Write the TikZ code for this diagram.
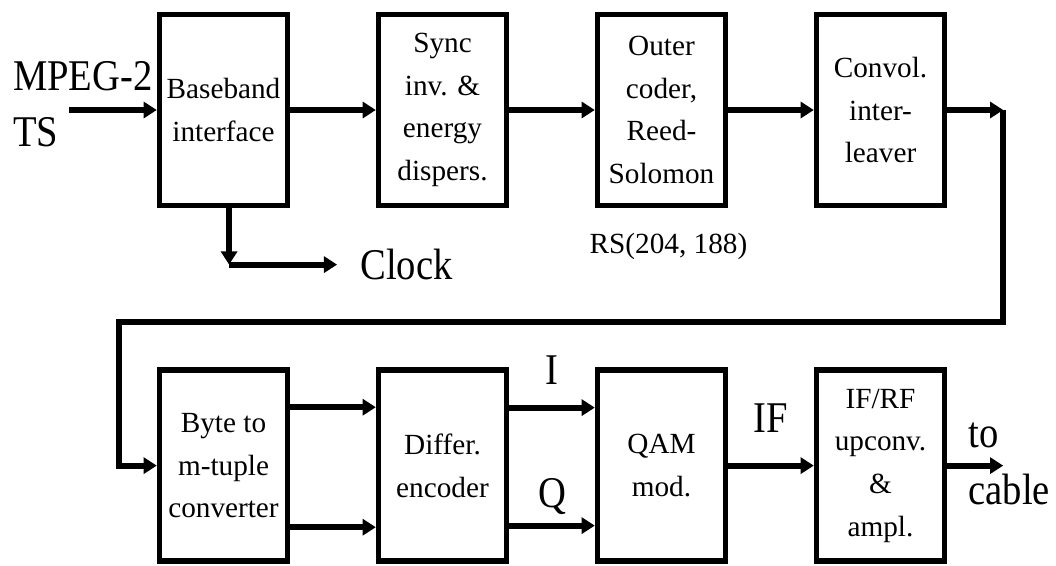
\documentclass[tikz,border=0pt]{standalone}
\usepackage{fontspec}
\setmainfont{Liberation Serif}
\newfontfamily\lblfont{Liberation Serif}[FakeStretch=0.88]
\usetikzlibrary{positioning,arrows.meta}
\tikzset{
  blk/.style={draw,line width=1.35mm,minimum width=32mm,minimum height=47.75mm,inner sep=0pt,align=center,font=\fontsize{20.8}{30.4}\selectfont},
  arr/.style={-{Triangle[length=3.3mm,width=4mm]},line width=1.5mm},
  lbig/.style={inner sep=0pt,font=\lblfont\fontsize{31.2}{40}\selectfont},
  lsmall/.style={inner sep=0pt,font=\fontsize{20.8}{30.4}\selectfont}
}

\begin{document}
\begin{tikzpicture}[x=0.25mm,y=-0.25mm,node distance=21.4mm]
\useasboundingbox (0,0) rectangle (1056,565);
% top row
\node[blk] (bb) at (223.5,110) {Baseband\\interface};
\node[blk, right=of bb] (sync) {Sync\\inv. \&\\energy\\dispers.};
\node[blk, right=of sync] (rs) {Outer\\coder,\\Reed-\\Solomon};
\node[blk, right=of rs] (ilv) {Convol.\\inter-\\leaver};
% bottom row
\node[blk, below=39.8mm of bb] (byte) {Byte to\\m-tuple\\converter};
\node[blk, right=of byte] (diff) {Differ.\\encoder};
\node[blk, right=of diff] (qam) {QAM\\mod.};
\node[blk, right=of qam] (rf) {IF/RF\\upconv.\\\&\\ampl.};

% labels
\node[lbig, align=left, left=1mm of bb, yshift=1.4mm] (mpeg) {MPEG-2\\TS};
\node[lsmall, below=6.1mm of rs, xshift=1.75mm] (rsc) {RS(204, 188)};

% input and top chain
\coordinate[left=22mm of bb] (tsin);
\draw[arr] (tsin) -- (bb);
\draw[arr] (bb) -- (sync);
\draw[arr] (sync) -- (rs);
\draw[arr] (rs) -- (ilv);

% clock output
\coordinate (clk1) at ([xshift=1.4mm,yshift=-14.1mm]bb.south);
\coordinate[right=27mm of clk1] (clk2);
\node[lbig, right=5.75mm of clk2] (clock) {Clock};
\draw[arr] (bb.south -| clk1) -- (clk1);
\draw[arr] (clk1) -- (clk2);

% loop down to second row
\coordinate[right=14mm of ilv] (c1);
\coordinate (lp) at ([xshift=-9.5mm,yshift=11.25mm]byte.north west);
\draw[arr] (ilv) -- (c1);
\draw[arr] (c1) |- (lp) |- (byte);

% bottom chain
\draw[arr] ([yshift=14.6mm]byte.east) -- ([yshift=14.6mm]diff.west);
\draw[arr] ([yshift=-15.4mm]byte.east) -- ([yshift=-15.4mm]diff.west);
\draw[arr] ([yshift=14.5mm]diff.east) -- node[lbig, above=5mm] (ilbl) {I} ([yshift=14.5mm]qam.west);
\draw[arr] ([yshift=-15mm]diff.east) -- node[lbig, above=2mm] (qlbl) {Q} ([yshift=-15mm]qam.west);
\draw[arr] (qam) -- node[lbig, above=7.5mm] (iflbl) {IF} (rf);

% output
\coordinate[right=14mm of rf] (cable);
\draw[arr] (rf) -- (cable);
\node[lbig, align=left, anchor=west] (tocable) at ([xshift=5.25mm,yshift=0.45mm]rf.east) {to\\cable};
\end{tikzpicture}
\end{document}
